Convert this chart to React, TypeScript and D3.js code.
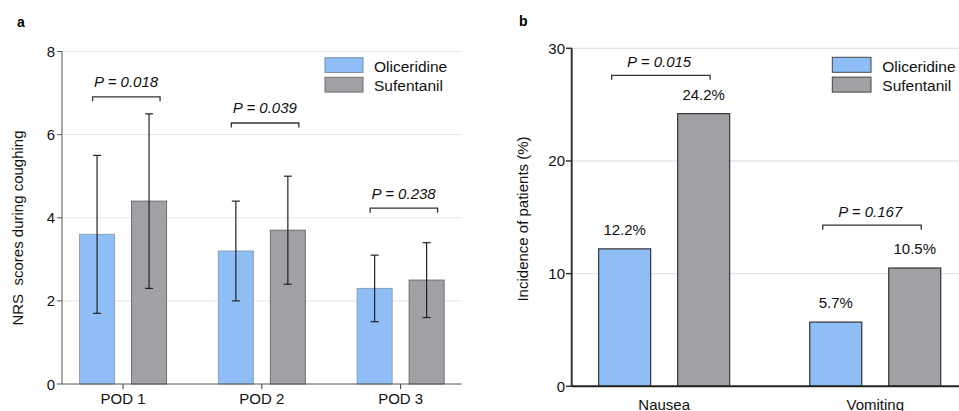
import React from "react";
import * as d3 from "d3";

const podCategories = ["POD 1", "POD 2", "POD 3"];
const oliceridineNRS = [3.6, 3.2, 2.3];
const oliceridineLow = [1.7, 2.0, 1.5];
const oliceridineHigh = [5.5, 4.4, 3.1];
const sufentanilNRS = [4.4, 3.7, 2.5];
const sufentanilLow = [2.3, 2.4, 1.6];
const sufentanilHigh = [6.5, 5.0, 3.4];
const podPValues = ["P = 0.018", "P = 0.039", "P = 0.238"];
const podBracketY = [6.91, 6.28, 4.23];
const nrsTicks = [0, 2, 4, 6, 8];

const aeCategories = ["Nausea", "Vomiting"];
const oliceridineAE = [12.2, 5.7];
const sufentanilAE = [24.2, 10.5];
const aePValues = ["P = 0.015", "P = 0.167"];
const aeBracketY = [27.6, 14.3];
const aeTicks = [0, 10, 20, 30];

const seriesNames = ["Oliceridine", "Sufentanil"];
const BLUE = "#8fbef7";
const GRAY = "#a1a0a5";
const FONT = "Liberation Sans, Arial, sans-serif";

function PanelA() {
  const y = d3.scaleLinear().domain([0, 8]).range([384, 51.5]);
  const x = d3.scalePoint<string>().domain(podCategories).range([62, 461.7]).padding(0.44);
  const bw = 35;
  const off = 26;
  return (
    <g fontFamily={FONT}>
      <text x={17} y={27} fontSize={14} fontWeight="bold">a</text>
      {nrsTicks.filter((t) => t > 0).map((t) => (
        <line key={t} x1={62} x2={461.7} y1={y(t)} y2={y(t)} stroke="#e6e6e6" strokeWidth={1} />
      ))}
      {podCategories.map((c, i) => {
        const cx = x(c)!;
        const bars = [
          { v: oliceridineNRS[i], lo: oliceridineLow[i], hi: oliceridineHigh[i], fill: BLUE, stroke: "#8aa0b8", xc: cx - off },
          { v: sufentanilNRS[i], lo: sufentanilLow[i], hi: sufentanilHigh[i], fill: GRAY, stroke: "#6e6e72", xc: cx + off },
        ];
        const by = y(podBracketY[i]);
        return (
          <g key={c}>
            {bars.map((b, j) => (
              <g key={j}>
                <rect x={b.xc - bw / 2} y={y(b.v)} width={bw} height={y(0) - y(b.v)} fill={b.fill} stroke={b.stroke} strokeWidth={1} />
                <line x1={b.xc} x2={b.xc} y1={y(b.hi)} y2={y(b.lo)} stroke="#222" strokeWidth={1.2} />
                <line x1={b.xc - 4} x2={b.xc + 4} y1={y(b.hi)} y2={y(b.hi)} stroke="#222" strokeWidth={1.2} />
                <line x1={b.xc - 4} x2={b.xc + 4} y1={y(b.lo)} y2={y(b.lo)} stroke="#222" strokeWidth={1.2} />
              </g>
            ))}
            <path d={`M${cx - 30.5},${by + 4.5}V${by}H${cx + 37}V${by + 4.5}`} fill="none" stroke="#333" strokeWidth={1.3} />
            <text x={cx + 3} y={by - 9.5} fontSize={15} fontStyle="italic" textAnchor="middle" fill="#111">{podPValues[i]}</text>
            <line x1={cx} x2={cx} y1={384} y2={389} stroke="#333" strokeWidth={1} />
            <text x={cx} y={404} fontSize={15} textAnchor="middle" fill="#111">{c}</text>
          </g>
        );
      })}
      <line x1={62} x2={62} y1={51.5} y2={384} stroke="#555" strokeWidth={1} />
      <line x1={62} x2={461.7} y1={384} y2={384} stroke="#555" strokeWidth={1} />
      {nrsTicks.map((t) => (
        <g key={t}>
          <line x1={57} x2={62} y1={y(t)} y2={y(t)} stroke="#555" strokeWidth={1} />
          <text x={55} y={y(t) + 5.5} fontSize={15} textAnchor="end" fill="#111">{t}</text>
        </g>
      ))}
      <text transform="translate(23,228) rotate(-90)" fontSize={15} textAnchor="middle" fill="#111" style={{ whiteSpace: "pre" }}>{"NRS  scores during coughing"}</text>
      {seriesNames.map((s, i) => (
        <g key={s}>
          <rect x={325} y={57.7 + i * 19.6} width={38} height={14.8} fill={i === 0 ? BLUE : GRAY} stroke={i === 0 ? "#7a8ea6" : "#6e6e72"} strokeWidth={1} />
          <text x={374} y={71.5 + i * 19.6} fontSize={15.5} fill="#111">{s}</text>
        </g>
      ))}
    </g>
  );
}

function PanelB() {
  const y = d3.scaleLinear().domain([0, 30]).range([386.3, 48.3]);
  const x = d3.scalePoint<string>().domain(aeCategories).range([571.7, 967.7]).padding(0.438);
  const bw = 52;
  const off = 39.5;
  return (
    <g fontFamily={FONT}>
      <text x={519} y={26} fontSize={14} fontWeight="bold">b</text>
      {aeTicks.filter((t) => t > 0).map((t) => (
        <line key={t} x1={572} x2={959} y1={y(t)} y2={y(t)} stroke="#e3e3e3" strokeWidth={1.2} />
      ))}
      {aeCategories.map((c, i) => {
        const cx = x(c)!;
        const bars = [
          { v: oliceridineAE[i], fill: BLUE, xc: cx - off },
          { v: sufentanilAE[i], fill: GRAY, xc: cx + off },
        ];
        const by = y(aeBracketY[i]);
        return (
          <g key={c}>
            {bars.map((b, j) => (
              <g key={j}>
                <rect x={b.xc - bw / 2} y={y(b.v)} width={bw} height={y(0) - y(b.v)} fill={b.fill} stroke="#333" strokeWidth={1.2} />
                <text x={b.xc} y={y(b.v) - 14} fontSize={15} textAnchor="middle" fill="#111">{`${b.v.toFixed(1)}%`}</text>
              </g>
            ))}
            <path d={`M${cx - 52.5},${by + 4.5}V${by}H${cx + 46}V${by + 4.5}`} fill="none" stroke="#333" strokeWidth={1.3} />
            <text x={cx - 5} y={by - 8.5} fontSize={15} fontStyle="italic" textAnchor="middle" fill="#111">{aePValues[i]}</text>
            <text x={cx} y={409.5} fontSize={15} textAnchor="middle" fill="#111">{c}</text>
          </g>
        );
      })}
      <line x1={571.7} x2={571.7} y1={48.3} y2={386.3} stroke="#333" strokeWidth={2} />
      <line x1={571.7} x2={959} y1={386.3} y2={386.3} stroke="#222" strokeWidth={2} />
      {aeTicks.map((t) => (
        <g key={t}>
          <line x1={566} x2={571.7} y1={y(t)} y2={y(t)} stroke="#333" strokeWidth={1.5} />
          <text x={565} y={y(t) + 5.5} fontSize={15} textAnchor="end" fill="#111">{t}</text>
        </g>
      ))}
      <text transform="translate(528,219) rotate(-90)" fontSize={15} textAnchor="middle" fill="#111">Incidence of patients (%)</text>
      {seriesNames.map((s, i) => (
        <g key={s}>
          <rect x={832.3} y={57.3 + i * 19.8} width={38.7} height={15} fill={i === 0 ? BLUE : GRAY} stroke="#444" strokeWidth={1} />
          <text x={882.3} y={71.5 + i * 19.6} fontSize={15.5} fill="#111">{s}</text>
        </g>
      ))}
    </g>
  );
}

export default function App() {
  return (
    <svg width={959} height={411} style={{ position: "absolute", left: 0, top: 0, background: "#fff" }}>
      <rect width={959} height={411} fill="#fff" />
      <PanelA />
      <PanelB />
    </svg>
  );
}
